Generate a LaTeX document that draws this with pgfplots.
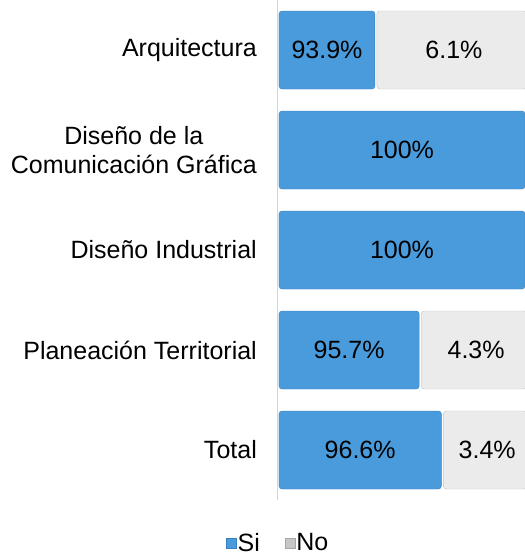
\documentclass[border=0pt]{standalone}
\usepackage{fontspec}
\setmainfont{Liberation Sans}
\usepackage{pgfplots}
\usepackage{pgfplotstable}
\pgfplotsset{compat=1.18}

\definecolor{siblue}{HTML}{4A9BDC}
\definecolor{siedge}{HTML}{3A7FBE}
\definecolor{nogray}{HTML}{EBEBEB}
\definecolor{noedge}{HTML}{C4C4C4}
\definecolor{axisgray}{HTML}{D4D4D4}

% si / no in percent
\pgfplotstableread{
y si no
0 93.9 6.1
1 100 0
2 100 0
3 95.7 4.3
4 96.6 3.4
}\datatable

\newcommand{\bigfont}{\fontsize{25bp}{29bp}\selectfont}

\begin{document}
\begin{tikzpicture}
\begin{axis}[
  scale only axis, width=248bp, height=500bp,
  xbar stacked, bar width=78bp,
  xmin=-0.0813, xmax=10, ymin=-0.5, ymax=4.5, y dir=reverse,
  hide x axis,
  axis y line*=left,
  y axis line style={draw=axisgray, line width=0.8bp, -},
  ytick={0,...,4},
  yticklabels={Arquitectura, {Diseño de la\\Comunicación Gráfica}, Diseño Industrial, Planeación Territorial, Total},
  y tick label style={align=center, inner sep=0pt, xshift=-20bp, font=\bigfont},
  major tick length=0pt,
  /pgf/number format/assume math mode=true,
  legend style={at={(axis description cs:0.003,-0.086)}, anchor=center,
    draw=none, fill=none, font=\bigfont, legend columns=2,
    /tikz/every even column/.append style={column sep=24bp},
    nodes={inner sep=1bp}},
]
\addplot[fill=siblue, draw=siedge, rounded corners=3bp,
  visualization depends on={\thisrow{si} \as \sival},
  nodes near coords={\pgfmathprintnumber{\sival}\%},
  every node near coord/.append style={anchor=center, font=\bigfont, text=black},
  legend image code/.code={\fill[siblue, draw=siedge, rounded corners=0pt] (0bp,-5bp) rectangle (10bp,5bp);},
] table[x expr=\thisrow{si}-90, y=y] {\datatable};
\addlegendentry{Si}
\addplot[fill=nogray, draw=noedge, rounded corners=3bp, xshift=2bp,
  visualization depends on={\thisrow{no} \as \noval},
  nodes near coords={\ifdim\noval pt>0pt \pgfmathprintnumber{\noval}\%\fi},
  every node near coord/.append style={anchor=center, font=\bigfont, text=black, xshift=2bp},
  legend image code/.code={\fill[black!22, draw=black!35, rounded corners=0pt] (-6bp,-5bp) rectangle (4bp,5bp);},
] table[x=no, y=y] {\datatable};
\addlegendentry{No}
\end{axis}
\pgfresetboundingbox
\path[use as bounding box] (-277bp,-56bp) rectangle (248bp,500bp);
\end{tikzpicture}
\end{document}
